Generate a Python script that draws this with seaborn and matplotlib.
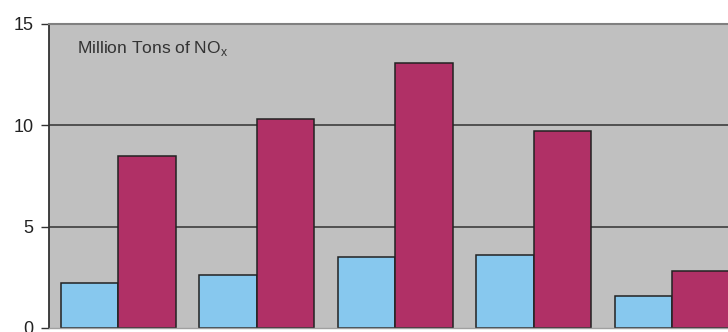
import matplotlib
matplotlib.use("Agg")
import matplotlib.pyplot as plt
import pandas as pd
import seaborn as sns

# NOx emissions, two series per group
groups = ["G1", "G2", "G3", "G4", "G5"]
blue_vals = [2.2, 2.6, 3.5, 3.6, 1.6]
red_vals = [8.5, 10.3, 13.1, 9.7, 2.8]
series = ["Series A", "Series B"]
yticks = [0, 5, 10, 15]

df = pd.DataFrame({
    "group": groups * 2,
    "series": [series[0]] * len(groups) + [series[1]] * len(groups),
    "value": blue_vals + red_vals,
})

sns.set_style("white")
plt.rcParams["font.family"] = ["Liberation Sans", "DejaVu Sans"]

fig = plt.figure(figsize=(7.28, 3.32), dpi=100)
# the original is cropped on the right, so the axes run past the figure edge
ax = fig.add_axes([49 / 728, 4 / 332, 692.5 / 728, 304 / 332])
ax.set_facecolor("#c0c0c0")

ax.axhline(5, color="#333333", lw=1.1, zorder=0)
ax.axhline(10, color="#333333", lw=1.1, zorder=0)

sns.barplot(data=df, x="group", y="value", hue="series",
            palette=["#87c8ee", "#b03066"], saturation=1, width=0.83,
            edgecolor="#222222", linewidth=1.1, legend=False, ax=ax,
            errorbar=None)

ax.set_xlim(-0.5, 4.5)
ax.set_ylim(0, 15)
ax.set_yticks(yticks)
ax.set_yticklabels([str(t) for t in yticks], fontsize=13, color="#222222")
ax.tick_params(axis="y", direction="out", length=6, width=1, color="#333333", pad=5, left=True)
ax.set_xticks([])
ax.set_xlabel("")
ax.set_ylabel("")

ax.spines["right"].set_visible(False)
ax.spines["left"].set_color("#333333")
ax.spines["left"].set_linewidth(1.3)
ax.spines["top"].set_color("#808080")
ax.spines["top"].set_linewidth(1.5)
ax.spines["bottom"].set_color("#a0a0a0")
ax.spines["bottom"].set_linewidth(1)

ax.text(0.040, 0.921, "Million Tons of NO$_\\mathregular{x}$", transform=ax.transAxes,
        fontsize=12.5, color="#333333", va="center", ha="left")

fig.savefig("out.png", dpi=100)
